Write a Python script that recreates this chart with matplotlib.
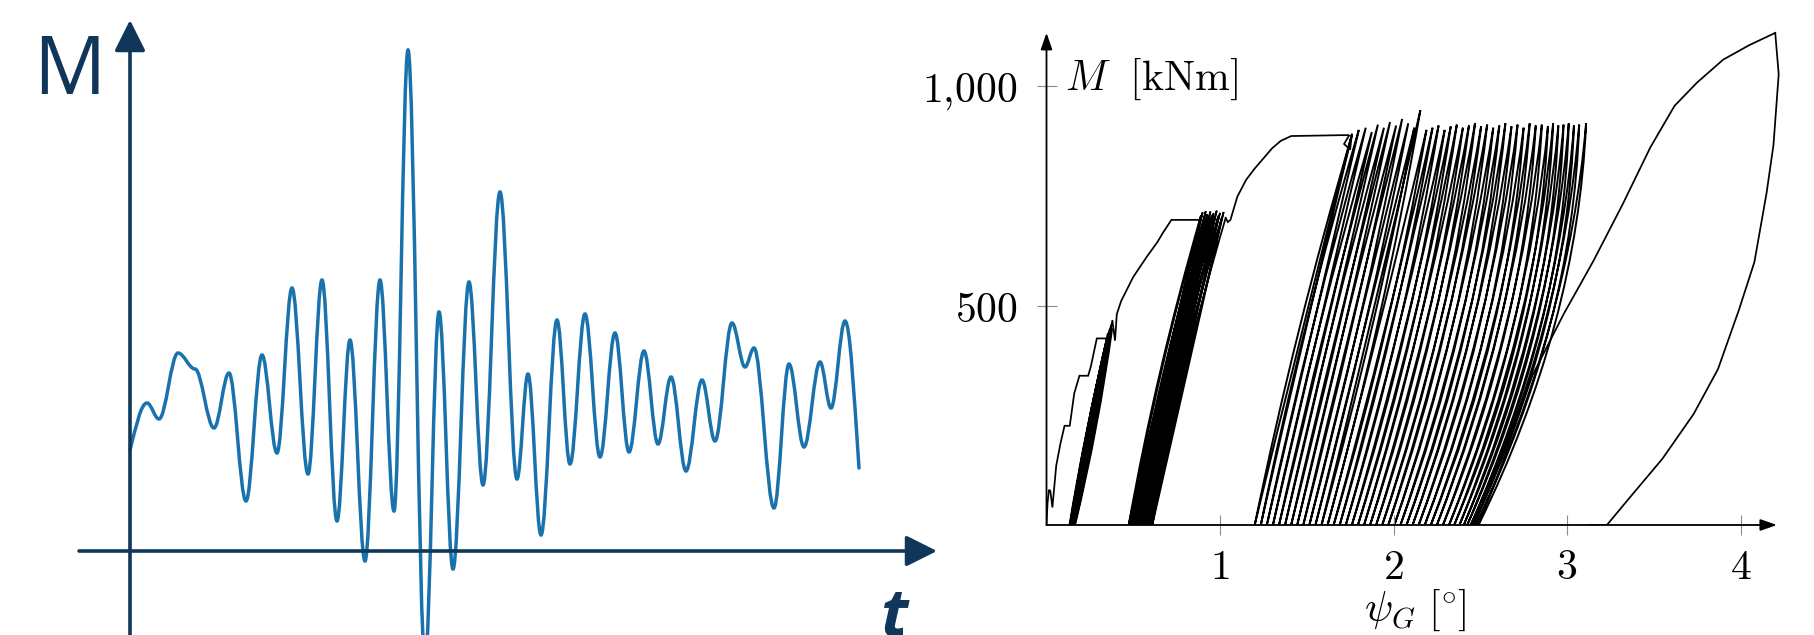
import matplotlib
matplotlib.use('Agg')
import matplotlib.pyplot as plt
from matplotlib.path import Path
from matplotlib.patches import PathPatch

plt.rcParams['mathtext.fontset'] = 'cm'

NAVY = '#103759'
BLUE = '#1a72ac'
INK = 'black'

# ---- left sketch: extrema of M(t), arbitrary units ----
T_SIG = [0, 17, 29, 48, 65, 84, 99, 116, 132, 147, 162, 178, 192, 207, 220, 235,
         250, 264, 278, 295, 309, 323, 339, 353, 370, 387, 398, 411, 427, 440, 455,
         470, 485, 499, 514, 528, 541, 556, 572, 585, 602, 615, 624, 644, 659, 674,
         690, 701, 715, 729]
M_SIG = [101, 148, 132, 198, 182, 123, 178, 50, 196, 98, 263, 77, 271, 30, 211, -10,
         271, 40, 501, -110, 239, -18, 269, 66, 359, 72, 177, 16, 231, 87, 237,
         94, 218, 99, 200, 107, 174, 80, 171, 110, 228, 184, 203, 43, 187, 104,
         189, 143, 230, 83]

# ---- right chart: M [kNm] over psi_G [deg] ----
# monotonic (skeleton) pieces
SK0_PSI = [0.000, 0.006, 0.014, 0.022, 0.034, 0.056, 0.080, 0.104, 0.134, 0.160,
           0.190, 0.240, 0.255, 0.290, 0.366]
SK0_M = [0, 50, 80, 78, 40, 135, 185, 226, 226, 300, 340, 340, 360, 425, 425]
SK1_PSI = [0.380, 0.395, 0.405, 0.430, 0.500, 0.578, 0.640, 0.670, 0.720, 0.885]
SK1_M = [465, 420, 480, 510, 565, 611, 645, 665, 695, 695]
SK2_PSI = [1.033, 1.045, 1.060, 1.100, 1.150, 1.200, 1.250, 1.300, 1.350, 1.410,
           1.700, 1.745, 1.715, 1.750, 1.760]
SK2_M = [700, 690, 695, 748, 786, 812, 835, 858, 875, 886, 888, 888, 868, 855, 890]

# cyclic block A
A_FOOT = [0.132, 0.135, 0.138, 0.141, 0.144, 0.147, 0.150, 0.153, 0.156, 0.159,
          0.162, 0.165]
A_TOP = [0.346, 0.350, 0.353, 0.357, 0.360, 0.364, 0.367, 0.370, 0.373, 0.376,
         0.379, 0.380]
A_PEAK = [420, 428, 436, 430, 440, 446, 438, 452, 444, 458, 448, 465]

# cyclic block B
B_FOOT = [0.473, 0.482, 0.491, 0.500, 0.509, 0.518, 0.527, 0.536, 0.545, 0.554,
          0.563, 0.572, 0.581, 0.590, 0.599, 0.610]
B_TOP = [0.890, 0.900, 0.909, 0.918, 0.927, 0.936, 0.945, 0.954, 0.963, 0.972,
         0.981, 0.990, 1.000, 1.010, 1.021, 1.033]
B_PEAK = [705, 712, 698, 715, 708, 700, 714, 706, 710, 702, 716, 704, 711, 699,
          713, 700]

# cyclic block C
C_FOOT = [1.200, 1.235, 1.270, 1.305, 1.340, 1.375, 1.410, 1.445, 1.480, 1.515,
          1.550, 1.585, 1.620, 1.655, 1.690, 1.725, 1.760, 1.795, 1.830, 1.865,
          1.900, 1.935, 1.970, 2.005, 2.040, 2.075, 2.110, 2.145, 2.180, 2.215,
          2.250, 2.285, 2.320, 2.350, 2.380, 2.405, 2.425, 2.445, 2.460, 2.475,
          2.490]
C_TOP = [1.760, 1.800, 1.840, 1.875, 1.910, 1.945, 1.980, 2.015, 2.050, 2.085,
         2.120, 2.155, 2.190, 2.225, 2.260, 2.295, 2.330, 2.365, 2.400, 2.435,
         2.470, 2.505, 2.540, 2.575, 2.610, 2.645, 2.680, 2.715, 2.750, 2.785,
         2.820, 2.855, 2.890, 2.920, 2.950, 2.980, 3.010, 3.040, 3.070, 3.110]
C_PEAK = [888, 900, 905, 895, 912, 905, 918, 910, 925, 915, 905, 945, 900, 905,
          910, 900, 908, 912, 905, 910, 915, 908, 912, 905, 910, 915, 908, 912,
          905, 915, 910, 912, 908, 915, 910, 912, 915, 910, 912, 915]
# sideways bow of each branch (shape only)
C_BOW = [-0.05, -0.05, -0.04, -0.04, -0.03, -0.03, -0.02, -0.02, -0.01, 0.00,
         0.00, 0.01, 0.02, 0.03, 0.03, 0.04, 0.05, 0.06, 0.06, 0.07,
         0.08, 0.09, 0.09, 0.10, 0.11, 0.12, 0.12, 0.13, 0.14, 0.15,
         0.15, 0.16, 0.17, 0.18, 0.18, 0.19, 0.20, 0.21, 0.21, 0.22]

# last big cycle
BIG_UP_PSI = [2.49, 2.60, 2.80, 2.98, 3.15, 3.32, 3.48, 3.62, 3.75, 3.90, 4.05, 4.20]
BIG_UP_M = [0, 110, 340, 480, 600, 730, 860, 955, 1008, 1060, 1093, 1121]
BIG_DN_PSI = [4.20, 4.22, 4.19, 4.15, 4.08, 3.99, 3.87, 3.73, 3.55, 3.35, 3.23, 3.12]
BIG_DN_M = [1121, 1027, 866, 756, 599, 489, 355, 253, 151, 57, 0, 0]

X_TICKS = [1, 2, 3, 4]
Y_TICKS = [500, 1000]
Y_TICKLABELS = [r'$500$', r'$1{,}000$']


def smooth_path(t, m, k=0.36):
    # cubic segments with flat tangents at every extremum
    verts = [(t[0], m[0])]
    codes = [Path.MOVETO]
    n = len(t)
    for i in range(n - 1):
        t0, m0, t1, m1 = t[i], m[i], t[i + 1], m[i + 1]
        dt = t1 - t0
        c1 = (t0 + k * dt, m0 + 0.5 * (m1 - m0)) if i == 0 else (t0 + k * dt, m0)
        c2 = (t1 - k * dt, m1 + 0.5 * (m0 - m1)) if i == n - 2 else (t1 - k * dt, m1)
        verts += [c1, c2, (t1, m1)]
        codes += [Path.CURVE4] * 3
    return Path(verts, codes)


def cycle_path(entry, feet, tops, peaks, bow, extra=0.0):
    # unload to each foot, reload to the next peak (quadratic bows)
    if not isinstance(bow, (list, tuple)):
        bow = [bow] * len(tops)
    verts = [entry]
    codes = [Path.MOVETO]
    cur = entry
    targets = []
    for i in range(len(tops)):
        targets.append(((feet[i], 0.0), bow[i] + extra))
        targets.append(((tops[i], peaks[i]), bow[i]))
    if len(feet) > len(tops):
        targets.append(((feet[-1], 0.0), bow[-1] + extra))
    for p, b in targets:
        c = ((cur[0] + p[0]) / 2 + b, (cur[1] + p[1]) / 2)
        verts += [c, p]
        codes += [Path.CURVE3, Path.CURVE3]
        cur = p
    return Path(verts, codes)


fig = plt.figure(figsize=(18.14, 6.35), dpi=100)
fig.patch.set_facecolor('white')

# ---------------- left sketch ----------------
axl = fig.add_axes([0, 0, 960 / 1814, 1])
axl.set_xlim(-130, 830)
axl.set_ylim(-84, 551)
axl.axis('off')

axl.add_patch(PathPatch(smooth_path(T_SIG, M_SIG), facecolor='none',
                        edgecolor=BLUE, lw=2.5, capstyle='round', zorder=3))
arr = dict(arrowstyle='-|>,head_length=1.9,head_width=0.95', mutation_scale=10,
           lw=2.6, color=NAVY, shrinkA=0, shrinkB=0)
axl.annotate('', xy=(0, 531), xytext=(0, -90), arrowprops=arr)
axl.annotate('', xy=(807, 0), xytext=(-51, 0), arrowprops=arr)

fig.text(33 / 1814, (635 - 94) / 635, 'M', fontsize=58,
         family=['DejaVu Sans Condensed', 'Liberation Sans Narrow', 'Open Sans'],
         color=NAVY, ha='left', va='baseline')
fig.text(895 / 1814, (635 - 636) / 635, 't', fontsize=48, family='Open Sans',
         weight='bold', style='italic', color=NAVY, ha='center', va='baseline')

# ---------------- right chart ----------------
axr = fig.add_axes([1046.5 / 1814, 110 / 635, 737.4 / 1814, 1125 * 0.439 / 635])
axr.set_xlim(0, 4.25)
axr.set_ylim(0, 1125)
axr.patch.set_visible(False)
for s in axr.spines.values():
    s.set_visible(False)

lw = 1.25
for px, py in [(SK0_PSI, SK0_M), (SK1_PSI, SK1_M), (SK2_PSI, SK2_M),
               (BIG_UP_PSI, BIG_UP_M), (BIG_DN_PSI, BIG_DN_M)]:
    axr.plot(px, py, color=INK, lw=lw, solid_joinstyle='miter')

axr.add_patch(PathPatch(cycle_path((SK0_PSI[-1], SK0_M[-1]), A_FOOT, A_TOP, A_PEAK,
                                   -0.02, extra=0.05),
                        facecolor='none', edgecolor=INK, lw=lw))
axr.add_patch(PathPatch(cycle_path((SK1_PSI[-1], SK1_M[-1]), B_FOOT, B_TOP, B_PEAK,
                                   -0.05, extra=0.05),
                        facecolor='none', edgecolor=INK, lw=lw))
axr.add_patch(PathPatch(cycle_path((SK2_PSI[-1], SK2_M[-1]), C_FOOT, C_TOP, C_PEAK,
                                   C_BOW, extra=0.04),
                        facecolor='none', edgecolor=INK, lw=1.4))

arr_r = dict(arrowstyle='-|>,head_length=1.0,head_width=0.35', mutation_scale=10,
             lw=1.3, color=INK, shrinkA=0, shrinkB=0)
axr.annotate('', xy=(4.21, 0), xytext=(0, 0), arrowprops=arr_r, annotation_clip=False)
axr.annotate('', xy=(0, 1121), xytext=(0, 0), arrowprops=arr_r, annotation_clip=False)

axr.set_xticks(X_TICKS)
axr.set_xticklabels([f'${v}$' for v in X_TICKS])
axr.set_yticks(Y_TICKS)
axr.set_yticklabels(Y_TICKLABELS)
axr.tick_params(direction='inout', length=14, width=0.8, color='#8c8c8c',
                labelsize=30)
axr.tick_params(axis='x', pad=8)
axr.tick_params(axis='y', pad=14)
axr.set_xlabel(r'$\psi_G\ [\!^\circ\!]$', fontsize=30, labelpad=0)
axr.text(0.107, 991, r'$M\ \ \mathrm{[kNm]}$', fontsize=30, va='baseline', ha='left')

fig.savefig('out.png', dpi=100, facecolor='white')
